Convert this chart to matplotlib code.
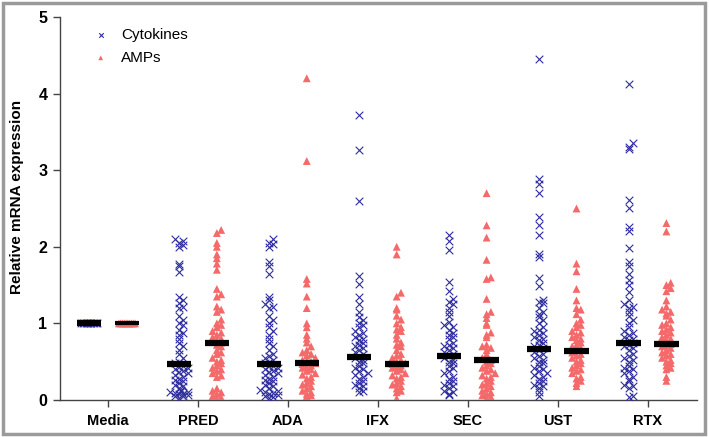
import matplotlib
matplotlib.use("Agg")
import matplotlib.pyplot as plt
from matplotlib.patches import Rectangle
import numpy as np

plt.rcParams['font.family'] = ['Liberation Sans', 'DejaVu Sans']

categories = ["Media", "PRED", "ADA", "IFX", "SEC", "UST", "RTX"]

media_cyt = [1.0, 1.0, 1.0, 1.0, 1.0, 1.0, 1.0, 1.0, 1.0, 1.0, 1.0, 1.0]
media_amp = [1.0, 1.0, 1.0, 1.0, 1.0, 1.0, 1.0, 1.0, 1.0, 1.0]

pred_cyt = [2.1, 2.08, 2.05, 2.02, 2.0, 1.78, 1.75, 1.67, 1.35, 1.3, 1.27, 1.22, 1.2, 1.1,
            1.05, 1.0, 0.98, 0.92, 0.88, 0.85, 0.8, 0.75, 0.7, 0.65, 0.6, 0.55, 0.5, 0.48,
            0.45, 0.43, 0.42, 0.4, 0.38, 0.36, 0.35, 0.32, 0.3, 0.28, 0.26, 0.25, 0.22, 0.2,
            0.18, 0.15, 0.13, 0.12, 0.1, 0.1, 0.09, 0.08, 0.08, 0.06, 0.05, 0.05, 0.03]
pred_amp = [2.22, 2.18, 2.05, 2.0, 1.9, 1.85, 1.78, 1.7, 1.45, 1.38, 1.35, 1.22, 1.18, 1.15,
            1.05, 1.0, 0.98, 0.95, 0.9, 0.88, 0.85, 0.82, 0.8, 0.78, 0.75, 0.72, 0.7, 0.65,
            0.62, 0.6, 0.55, 0.52, 0.5, 0.48, 0.45, 0.42, 0.4, 0.38, 0.35, 0.32, 0.3, 0.15,
            0.12, 0.1, 0.08, 0.05, 0.03, 0.02]
ada_cyt = [2.1, 2.05, 2.03, 2.0, 1.8, 1.75, 1.65, 1.35, 1.3, 1.25, 1.22, 1.2, 1.1, 1.05, 1.0,
           0.95, 0.9, 0.85, 0.8, 0.75, 0.7, 0.65, 0.6, 0.58, 0.55, 0.52, 0.5, 0.48, 0.45,
           0.44, 0.42, 0.4, 0.38, 0.36, 0.35, 0.32, 0.3, 0.28, 0.26, 0.25, 0.22, 0.2, 0.18,
           0.15, 0.13, 0.12, 0.1, 0.09, 0.08, 0.06, 0.05, 0.04, 0.03]
ada_amp = [4.2, 3.12, 1.58, 1.52, 1.35, 1.2, 1.0, 0.95, 0.85, 0.8, 0.75, 0.7, 0.65, 0.62, 0.6,
           0.58, 0.55, 0.52, 0.5, 0.5, 0.48, 0.47, 0.45, 0.43, 0.42, 0.4, 0.38, 0.35, 0.33,
           0.3, 0.28, 0.25, 0.22, 0.2, 0.18, 0.15, 0.12, 0.1, 0.08, 0.06, 0.05]
ifx_cyt = [3.72, 3.26, 2.6, 1.62, 1.52, 1.35, 1.25, 1.15, 1.08, 1.05, 1.0, 0.98, 0.95, 0.9,
           0.88, 0.85, 0.82, 0.8, 0.78, 0.75, 0.72, 0.7, 0.68, 0.65, 0.62, 0.6, 0.58, 0.55,
           0.52, 0.5, 0.48, 0.45, 0.42, 0.4, 0.38, 0.35, 0.32, 0.3, 0.28, 0.25, 0.22, 0.2,
           0.18, 0.15, 0.12, 0.1]
ifx_amp = [2.0, 1.9, 1.4, 1.35, 1.2, 1.18, 1.1, 1.05, 1.0, 0.95, 0.92, 0.9, 0.85, 0.8, 0.75,
           0.72, 0.7, 0.65, 0.6, 0.58, 0.55, 0.52, 0.5, 0.48, 0.47, 0.45, 0.43, 0.42, 0.4,
           0.38, 0.35, 0.32, 0.3, 0.28, 0.25, 0.22, 0.2, 0.18, 0.15, 0.12, 0.1, 0.02]
sec_cyt = [2.15, 2.07, 1.96, 1.54, 1.42, 1.32, 1.28, 1.25, 1.2, 1.15, 1.1, 1.02, 0.98, 0.95,
           0.92, 0.88, 0.85, 0.82, 0.8, 0.75, 0.72, 0.7, 0.68, 0.65, 0.62, 0.6, 0.58, 0.55,
           0.52, 0.5, 0.48, 0.45, 0.42, 0.38, 0.35, 0.3, 0.28, 0.25, 0.22, 0.2, 0.18, 0.15,
           0.12, 0.1, 0.08, 0.06]
sec_amp = [2.7, 2.28, 2.12, 1.83, 1.6, 1.58, 1.32, 1.15, 1.12, 1.07, 1.0, 0.98, 0.88, 0.85,
           0.82, 0.72, 0.7, 0.68, 0.65, 0.6, 0.55, 0.52, 0.5, 0.48, 0.45, 0.42, 0.4, 0.38,
           0.35, 0.32, 0.3, 0.28, 0.25, 0.22, 0.2, 0.18, 0.15, 0.12, 0.1, 0.08, 0.06, 0.04,
           0.02]
ust_cyt = [4.45, 2.88, 2.82, 2.7, 2.39, 2.28, 2.15, 1.9, 1.87, 1.59, 1.49, 1.3, 1.28, 1.26,
           1.2, 1.15, 1.12, 1.08, 1.05, 1.0, 0.95, 0.92, 0.9, 0.88, 0.85, 0.82, 0.8, 0.78,
           0.75, 0.72, 0.7, 0.68, 0.65, 0.62, 0.6, 0.58, 0.55, 0.52, 0.5, 0.48, 0.45, 0.42,
           0.4, 0.38, 0.35, 0.32, 0.3, 0.28, 0.25, 0.22, 0.2, 0.18, 0.15, 0.1, 0.05]
ust_amp = [2.5, 1.78, 1.68, 1.45, 1.3, 1.2, 1.18, 1.12, 1.05, 1.0, 0.98, 0.95, 0.9, 0.88,
           0.85, 0.82, 0.8, 0.78, 0.75, 0.72, 0.7, 0.68, 0.65, 0.62, 0.6, 0.58, 0.55, 0.52,
           0.5, 0.48, 0.45, 0.42, 0.4, 0.38, 0.35, 0.3, 0.28, 0.25, 0.22, 0.18]
rtx_cyt = [4.13, 3.35, 3.3, 3.28, 2.61, 2.5, 2.26, 2.2, 1.98, 1.8, 1.75, 1.64, 1.56, 1.5,
           1.41, 1.3, 1.25, 1.22, 1.2, 1.15, 1.1, 1.05, 1.0, 0.95, 0.9, 0.88, 0.85, 0.82,
           0.8, 0.78, 0.75, 0.72, 0.7, 0.68, 0.65, 0.6, 0.58, 0.55, 0.52, 0.5, 0.45, 0.42,
           0.4, 0.38, 0.35, 0.3, 0.28, 0.25, 0.2, 0.18, 0.15, 0.05, 0.04]
rtx_amp = [2.31, 2.2, 1.53, 1.5, 1.46, 1.42, 1.3, 1.22, 1.18, 1.15, 1.13, 1.1, 1.05, 1.0,
           0.98, 0.95, 0.92, 0.9, 0.88, 0.85, 0.82, 0.8, 0.78, 0.75, 0.73, 0.72, 0.7, 0.68,
           0.65, 0.62, 0.6, 0.58, 0.55, 0.52, 0.5, 0.48, 0.45, 0.42, 0.4, 0.3, 0.25]

cytokines = [media_cyt, pred_cyt, ada_cyt, ifx_cyt, sec_cyt, ust_cyt, rtx_cyt]
amps = [media_amp, pred_amp, ada_amp, ifx_amp, sec_amp, ust_amp, rtx_amp]

median_cyt = [1.0, 0.47, 0.47, 0.56, 0.58, 0.67, 0.75]
median_amp = [1.0, 0.75, 0.48, 0.47, 0.52, 0.64, 0.73]

CYT_COLOR = "#2E2E9E"
AMP_COLOR = "#F46A6A"


def swarm_offsets(vals, step=0.048, binw=0.07, maxn=5):
    vals = np.asarray(vals, dtype=float)
    order = np.argsort(vals)
    offs = np.zeros(len(vals))
    pattern = [0, 1, -1, 2, -2]
    bins = {}
    for i in order:
        b = int(vals[i] // binw)
        k = bins.get(b, 0)
        bins[b] = k + 1
        p = pattern[k % maxn]
        shift = 0.5 if (k // maxn) % 2 == 1 else 0.0
        offs[i] = (p + shift * (1 if p <= 0 else -1)) * step
    return offs


fig = plt.figure(figsize=(7.09, 4.37), dpi=100)
ax = fig.add_axes([0.0846, 0.0847, 0.8984, 0.8764])

sep = 0.21
for i in range(len(categories)):
    xc = i - sep
    xa = i + sep
    c = cytokines[i]
    a = amps[i]
    if i == 0:
        oc = np.linspace(-0.09, 0.09, len(c))
        oa = np.linspace(-0.09, 0.09, len(a))
    else:
        oc = swarm_offsets(c)
        oa = swarm_offsets(a)
    ax.scatter(xc + oc, c, marker='x', s=30, color=CYT_COLOR, linewidths=0.8, zorder=3,
               label="Cytokines" if i == 0 else None)
    ax.scatter(xa + oa, a, marker='^', s=32, color=AMP_COLOR, edgecolors='none', zorder=3,
               label="AMPs" if i == 0 else None)
    ax.plot([xc - 0.135, xc + 0.135], [median_cyt[i]] * 2, color='black', lw=4.5,
            solid_capstyle='butt', zorder=4)
    ax.plot([xa - 0.135, xa + 0.135], [median_amp[i]] * 2, color='black', lw=4.5 if i else 3,
            solid_capstyle='butt', zorder=4)

ax.set_xlim(-0.535, 6.55)
ax.set_ylim(0, 5)
ax.set_xticks(range(len(categories)))
ax.set_xticklabels(categories, fontsize=10.5, fontweight='bold')
ax.set_yticks([0, 1, 2, 3, 4, 5])
ax.set_yticklabels(["0", "1", "2", "3", "4", "5"], fontsize=11.5, fontweight='bold')
ax.set_ylabel("Relative mRNA expression", fontsize=11, fontweight='bold')
ax.yaxis.set_label_coords(-0.056, 0.53)
for s in ['top', 'right']:
    ax.spines[s].set_visible(False)
for s in ['left', 'bottom']:
    ax.spines[s].set_color('#444444')
    ax.spines[s].set_linewidth(1.0)
ax.tick_params(axis='both', direction='out', length=5, width=1, color='#444444', pad=4)
ax.tick_params(axis='x', pad=5)

leg = ax.legend(loc='upper left', bbox_to_anchor=(0.028, 1.008), frameon=False, fontsize=11,
                handlelength=1.2, handletextpad=0.75, labelspacing=0.6, markerscale=0.6)

fig.patches.append(Rectangle((0.004, 0.006), 0.99, 0.988, transform=fig.transFigure,
                             fill=False, edgecolor='#9A9A9A', linewidth=2.5))

fig.savefig("out.png", dpi=100)
